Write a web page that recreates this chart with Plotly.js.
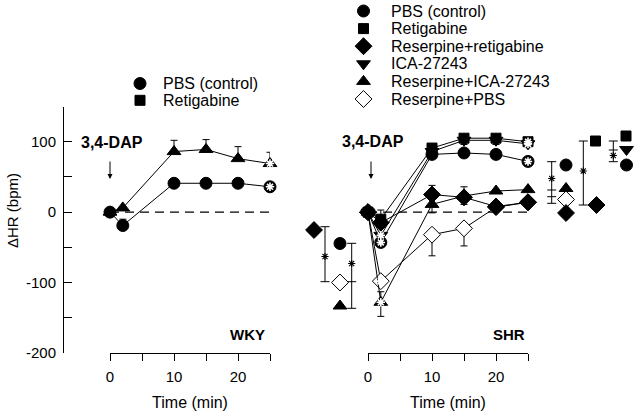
<!DOCTYPE html>
<html>
<head>
<meta charset="utf-8">
<script src="https://cdn.plot.ly/plotly-3.0.1.min.js"></script>
<style>html,body{margin:0;padding:0;background:#fff;}#chart{width:638px;height:417px;}</style>
</head>
<body>
<div id="chart"></div>
<script>
// ---------- data ----------
const time = [0, 2, 10, 15, 20, 25];
const xTickVals = [0, 5, 10, 15, 20, 25];
const xTickText = ['0', '', '10', '', '20', ''];
const yTickVals = [-200, -150, -100, -50, 0, 50, 100, 150];
const yTickText = ['-200', '', '-100', '', '0', '', '100', ''];

// WKY panel
const wkyPBS = [0, -19, 41, 41, 41, 36];
const wkyPBSErrUp = [0, 9, 0, 0, 0, 0];
const wkyPBSErrDn = [0, 0, 0, 0, 0, 0];
const wkyPBSStar = [0, 0, 0, 0, 0, 1];
const wkyRet = [0, 6, 86, 89, 76, 69];
const wkyRetErrUp = [0, 0, 16, 14, 17, 16];
const wkyRetErrDn = [0, 0, 0, 0, 0, 0];
const wkyRetStar = [0, 0, 0, 0, 0, 1];

// SHR panel
const shrResPBS = [0, -98, -32, -23, 7, 14];
const shrResPBSErrUp = [0, 0, 0, 0, 0, 0];
const shrResPBSErrDn = [0, 0, 30, 25, 0, 0];
const shrResPBSStar = [0, 1, 0, 0, 0, 0];
const shrResICA = [0, -128, 11, 23, 30, 32];
const shrResICAErrUp = [0, 15, 0, 0, 0, 0];
const shrResICAErrDn = [0, 20, 12, 0, 0, 0];
const shrResICAStar = [0, 1, 0, 0, 0, 0];
const shrResRet = [0, -15, 25, 21, 8, 14];
const shrResRetErrUp = [0, 0, 13, 15, 0, 0];
const shrResRetErrDn = [0, 0, 0, 10, 0, 0];
const shrResRetStar = [0, 0, 0, 0, 0, 0];
const shrPBS = [0, -43, 82, 84, 82, 72];
const shrPBSErrUp = [0, 0, 6, 0, 5, 4];
const shrPBSErrDn = [0, 0, 0, 0, 0, 0];
const shrPBSStar = [0, 1, 0, 0, 0, 1];
const shrICA = [0, -33, 86, 102, 102, 97];
const shrICAErrUp = [0, 0, 0, 0, 0, 0];
const shrICAErrDn = [0, 0, 0, 6, 6, 0];
const shrICAStar = [0, 1, 0, 0, 0, 1];
const shrRet = [0, -10, 91, 105, 105, 100];
const shrRetErrUp = [0, 13, 5, 3, 3, 0];
const shrRetErrDn = [0, 0, 0, 0, 0, 0];
const shrRetStar = [0, 0, 0, 0, 0, 1];

// legends
const leftLegendLabels = ['PBS (control)', 'Retigabine'];
const leftLegendSymbols = ['circle', 'square'];
const rightLegendLabels = ['PBS (control)', 'Retigabine', 'Reserpine+retigabine', 'ICA-27243', 'Reserpine+ICA-27243', 'Reserpine+PBS'];
const rightLegendSymbols = ['circle', 'square', 'diamond', 'triangle-down', 'triangle-up', 'diamond-open'];

// ---------- helpers ----------
const FONT = 'Arial, "Liberation Sans", sans-serif';
const BLACK = '#000';
const sizeOf = s => s.startsWith('square') ? 10 : (s.startsWith('diamond') ? 13 : 12);
const fillOf = s => s.endsWith('-open') ? '#fff' : BLACK;
const baseSym = s => s.replace('-open', '');

function series(xa, y, up, dn, sym) {
  return {
    x: time, y: y, xaxis: xa, yaxis: 'y', type: 'scatter', mode: 'lines+markers',
    line: {color: BLACK, width: 1},
    marker: {symbol: baseSym(sym), size: sizeOf(sym), color: fillOf(sym), opacity: 1, line: {color: BLACK, width: 1}},
    error_y: {type: 'data', symmetric: false, array: up, arrayminus: dn, color: BLACK, thickness: 1, width: 3.5},
    cliponaxis: false, showlegend: false, hoverinfo: 'skip'
  };
}
function stars(xa, y, flags) {
  const xs = [], ys = [];
  flags.forEach((f, i) => { if (f) { xs.push(time[i]); ys.push(y[i]); } });
  return {
    x: xs, y: ys, xaxis: xa, yaxis: 'y', type: 'scatter', mode: 'markers',
    marker: {symbol: 'asterisk-open', size: 7, color: '#fff', opacity: 1, line: {color: '#fff', width: 1.6}},
    cliponaxis: false, showlegend: false, hoverinfo: 'skip'
  };
}

// ---------- traces ----------
const traces = [
  series('x', wkyPBS, wkyPBSErrUp, wkyPBSErrDn, 'circle'),
  series('x', wkyRet, wkyRetErrUp, wkyRetErrDn, 'triangle-up'),
  series('x2', shrResPBS, shrResPBSErrUp, shrResPBSErrDn, 'diamond-open'),
  series('x2', shrResICA, shrResICAErrUp, shrResICAErrDn, 'triangle-up'),
  series('x2', shrResRet, shrResRetErrUp, shrResRetErrDn, 'diamond'),
  series('x2', shrPBS, shrPBSErrUp, shrPBSErrDn, 'circle'),
  series('x2', shrICA, shrICAErrUp, shrICAErrDn, 'triangle-down'),
  series('x2', shrRet, shrRetErrUp, shrRetErrDn, 'square'),
  stars('x', wkyPBS, wkyPBSStar),
  stars('x', wkyRet, wkyRetStar),
  stars('x2', shrResPBS, shrResPBSStar),
  stars('x2', shrResICA, shrResICAStar),
  stars('x2', shrPBS, shrPBSStar),
  stars('x2', shrICA, shrICAStar),
  stars('x2', shrRet, shrRetStar)
];

// pixel-space overlay (x3 / y2) for legends and significance keys
const annotations = [];
function legendBlock(labels, symbols, mx, tx, y0, dy) {
  traces.push({
    x: labels.map(() => mx), y: labels.map((_, i) => y0 + i * dy),
    xaxis: 'x3', yaxis: 'y2', type: 'scatter', mode: 'markers',
    marker: {symbol: symbols.map(baseSym), size: symbols.map(sizeOf), color: symbols.map(fillOf), opacity: 1, line: {color: BLACK, width: 1}},
    cliponaxis: false, showlegend: false, hoverinfo: 'skip'
  });
  labels.forEach((t, i) => annotations.push({
    xref: 'x3', yref: 'y2', x: tx, y: y0 + i * dy, text: t, showarrow: false,
    xanchor: 'left', yanchor: 'middle', font: {family: FONT, size: 16, color: BLACK}
  }));
}
legendBlock(leftLegendLabels, leftLegendSymbols, 140, 161, 83.5, 16.8);
legendBlock(rightLegendLabels, rightLegendSymbols, 363.5, 389, 11, 17.6);

// significance keys: symbols beside brackets
const keySymbols = [
  ['diamond', 314, 230], ['circle', 340, 243.5], ['diamond-open', 340, 282.5], ['triangle-up', 340, 306],
  ['circle', 566, 165], ['triangle-up', 566, 188.5], ['diamond-open', 566, 199.5], ['diamond', 566, 213],
  ['square', 595.5, 141], ['diamond', 596.5, 205],
  ['square', 626, 136], ['triangle-down', 626.5, 149.5], ['circle', 626.5, 165]
];
traces.push({
  x: keySymbols.map(k => k[1]), y: keySymbols.map(k => k[2]), xaxis: 'x3', yaxis: 'y2', type: 'scatter', mode: 'markers',
  marker: {symbol: keySymbols.map(k => baseSym(k[0])), size: keySymbols.map(k => sizeOf(k[0])), color: keySymbols.map(k => fillOf(k[0])), opacity: 1, line: {color: BLACK, width: 1}},
  cliponaxis: false, showlegend: false, hoverinfo: 'skip'
});
// brackets: [x, yTop, yBottom, capYs, starY]
const brackets = [
  [325, 226.7, 281.7, [226.7, 281.7], 256.5],
  [351.7, 243.3, 308.3, [243.3, 281.7, 308.3], 263.5],
  [551.7, 161.7, 203.3, [161.7, 190, 196.7, 203.3], 178.5],
  [583.3, 141, 205, [141, 205], 171],
  [613.3, 141, 161.7, [141, 150, 161.7], 155.5]
];
const shapes = [];
brackets.forEach(b => {
  shapes.push({type: 'line', xref: 'x3', yref: 'y2', x0: b[0], x1: b[0], y0: b[1], y1: b[2], line: {color: BLACK, width: 1}});
  b[3].forEach(cy => shapes.push({type: 'line', xref: 'x3', yref: 'y2', x0: b[0] - 4.5, x1: b[0] + 4.5, y0: cy, y1: cy, line: {color: BLACK, width: 1}}));
});
traces.push({
  x: brackets.map(b => b[0]), y: brackets.map(b => b[4]), xaxis: 'x3', yaxis: 'y2', type: 'scatter', mode: 'markers',
  marker: {symbol: 'asterisk-open', size: 6, color: BLACK, opacity: 1, line: {color: BLACK, width: 1.1}},
  cliponaxis: false, showlegend: false, hoverinfo: 'skip'
});

// dashed zero lines
['x', 'x2'].forEach(xa => shapes.push({
  type: 'line', xref: xa, yref: 'y', x0: 0, x1: 25, y0: 0, y1: 0, layer: 'below',
  line: {color: BLACK, width: 1.2, dash: '9px,6px'}
}));

// text annotations
const pxAnn = (x, y, text, opts) => Object.assign({xref: 'x3', yref: 'y2', x: x, y: y, text: text, showarrow: false,
  font: {family: FONT, size: 15, color: BLACK}}, opts || {});
annotations.push(pxAnn(111.5, 142, '<b>3,4-DAP</b>', {font: {family: FONT, size: 16, color: BLACK}}));
annotations.push(pxAnn(372.5, 141, '<b>3,4-DAP</b>', {font: {family: FONT, size: 16, color: BLACK}}));
annotations.push(pxAnn(267, 334, '<b>WKY</b>', {xanchor: 'right'}));
annotations.push(pxAnn(527, 334, '<b>SHR</b>', {xanchor: 'right'}));
annotations.push(pxAnn(12, 211, 'ΔHR (bpm)', {textangle: -90}));
// arrows for 3,4-DAP injection
[[110, 'x3'], [371, 'x3']].forEach(a => annotations.push({
  xref: a[1], yref: 'y2', x: a[0], y: 179, ax: a[0], ay: 160, axref: a[1], ayref: 'y2',
  text: '', showarrow: true, arrowhead: 2, arrowsize: 1, arrowwidth: 1, arrowcolor: BLACK
}));

const tickFont = {family: FONT, size: 15, color: BLACK};
const xCommon = {
  range: [0, 25], anchor: 'y', showline: true, linecolor: BLACK, linewidth: 1,
  ticks: 'outside', ticklen: 7, tickwidth: 1, tickcolor: BLACK,
  tickmode: 'array', tickvals: xTickVals, ticktext: xTickText, tickfont: tickFont,
  ticklabelstandoff: 3,
  showgrid: false, zeroline: false, fixedrange: true,
  title: {text: 'Time (min)', font: {family: FONT, size: 16, color: BLACK}, standoff: 12}
};
const layout = {
  width: 638, height: 417,
  margin: {l: 0, r: 0, t: 0, b: 0, pad: 0},
  paper_bgcolor: '#fff', plot_bgcolor: 'rgba(0,0,0,0)',
  showlegend: false,
  font: {family: FONT, size: 15, color: BLACK},
  xaxis: Object.assign({}, xCommon, {domain: [110 / 638, 270 / 638]}),
  xaxis2: Object.assign({}, xCommon, {domain: [368 / 638, 528 / 638]}),
  yaxis: {
    domain: [(417 - 353) / 417, (417 - 106.5) / 417], range: [-200, 150],
    anchor: 'free', position: 63 / 638, showline: true, linecolor: BLACK, linewidth: 1,
    ticks: 'inside', ticklen: 8, tickwidth: 1, tickcolor: BLACK,
    tickmode: 'array', tickvals: yTickVals, ticktext: yTickText, tickfont: tickFont,
    ticklabelstandoff: 4,
    showgrid: false, zeroline: false, fixedrange: true
  },
  xaxis3: {domain: [0, 1], range: [0, 638], anchor: 'y2', visible: false, fixedrange: true},
  yaxis2: {domain: [0, 1], range: [417, 0], anchor: 'x3', visible: false, fixedrange: true},
  shapes: shapes,
  annotations: annotations
};
Plotly.newPlot('chart', traces, layout, {staticPlot: true, displayModeBar: false});
</script>
</body>
</html>
